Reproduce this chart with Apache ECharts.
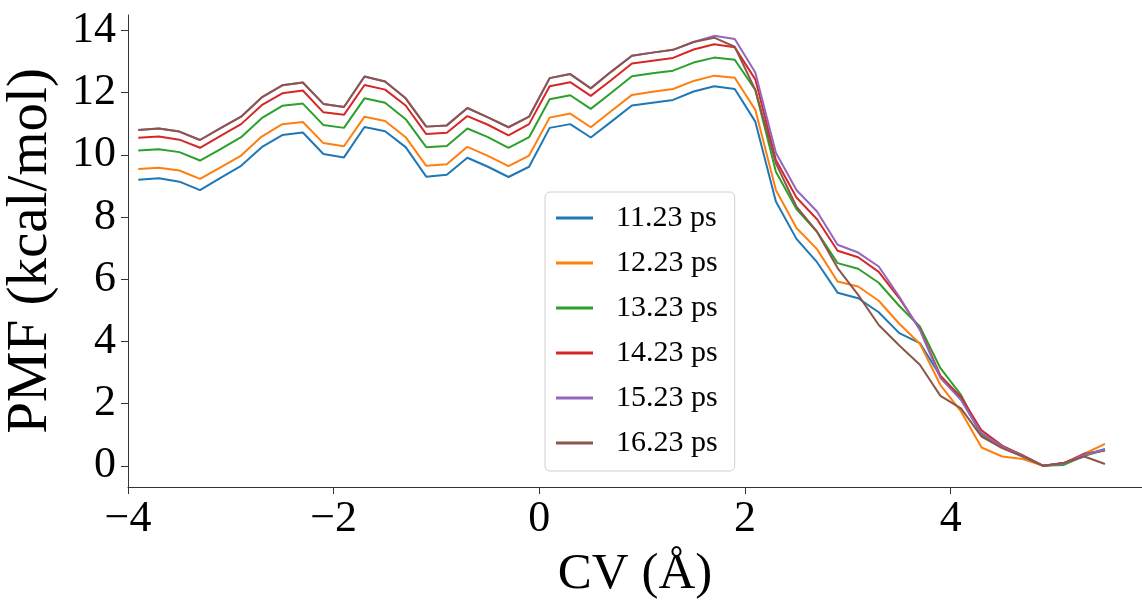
<!DOCTYPE html>
<html>
<head>
<meta charset="utf-8">
<script src="https://cdn.jsdelivr.net/npm/echarts@6/dist/echarts.min.js"></script>
<style>
html,body{margin:0;padding:0;background:#fff;}
#chart{width:1142px;height:606px;}
</style>
</head>
<body>
<div id="chart"></div>
<script>
const cv = [-3.9,-3.7,-3.5,-3.3,-3.1,-2.9,-2.7,-2.5,-2.3,-2.1,-1.9,-1.7,-1.5,-1.3,-1.1,-0.9,-0.7,-0.5,-0.3,-0.1,
  0.1,0.3,0.5,0.7,0.9,1.1,1.3,1.5,1.7,1.9,2.1,2.3,2.5,2.7,2.9,3.1,3.3,3.5,3.7,3.9,4.1,4.3,4.5,4.7,4.9,5.1,5.3,5.5];

const pmf_11_23 = [9.20,9.25,9.14,8.87,9.26,9.65,10.25,10.64,10.72,10.03,9.92,10.90,10.76,10.25,9.30,9.36,9.91,9.62,9.29,9.62,
  10.87,10.99,10.56,11.07,11.59,11.68,11.77,12.04,12.21,12.12,11.07,8.50,7.30,6.55,5.57,5.39,4.94,4.27,3.95,2.88,2.14,1.00,0.62,0.30,0.00,0.09,0.35,0.54];
const pmf_12_23 = [9.55,9.59,9.50,9.23,9.60,9.98,10.59,10.99,11.06,10.38,10.28,11.23,11.09,10.57,9.65,9.70,10.26,9.97,9.64,9.98,
  11.20,11.33,10.89,11.41,11.93,12.03,12.12,12.38,12.55,12.48,11.45,8.87,7.65,6.97,5.93,5.77,5.31,4.57,3.93,2.60,1.75,0.59,0.30,0.22,0.00,0.06,0.39,0.71];
const pmf_13_23 = [10.14,10.18,10.09,9.82,10.19,10.57,11.18,11.58,11.65,10.96,10.87,11.82,11.68,11.15,10.25,10.29,10.85,10.57,10.23,10.57,
  11.79,11.92,11.48,12.00,12.53,12.63,12.71,12.97,13.13,13.06,12.09,9.46,8.26,7.53,6.52,6.34,5.89,5.14,4.48,3.14,2.28,1.00,0.62,0.34,0.00,0.03,0.32,0.51];
const pmf_14_23 = [10.55,10.59,10.49,10.23,10.61,10.99,11.60,11.98,12.07,11.37,11.29,12.25,12.10,11.59,10.67,10.71,11.25,10.97,10.63,10.99,
  12.21,12.34,11.90,12.41,12.94,13.03,13.12,13.39,13.56,13.46,12.43,9.84,8.63,7.93,6.92,6.71,6.24,5.39,4.40,2.90,2.21,1.14,0.65,0.34,0.00,0.09,0.39,0.49];
const pmf_15_23 = [10.80,10.85,10.75,10.48,10.86,11.23,11.85,12.24,12.33,11.64,11.54,12.52,12.36,11.82,10.91,10.95,11.51,11.21,10.89,11.23,
  12.47,12.60,12.14,12.68,13.19,13.29,13.38,13.63,13.83,13.73,12.65,10.07,8.87,8.18,7.11,6.86,6.41,5.44,4.37,2.82,2.12,1.05,0.62,0.32,0.00,0.07,0.36,0.52];
const pmf_16_23 = [10.80,10.85,10.75,10.48,10.86,11.23,11.85,12.24,12.33,11.64,11.54,12.52,12.36,11.82,10.91,10.95,11.51,11.21,10.89,11.23,
  12.47,12.60,12.14,12.68,13.19,13.29,13.38,13.63,13.77,13.48,12.09,9.73,8.34,7.53,6.36,5.50,4.53,3.87,3.25,2.25,1.85,0.94,0.57,0.30,0.00,0.09,0.30,0.06];

const seriesNames = ['11.23 ps','12.23 ps','13.23 ps','14.23 ps','15.23 ps','16.23 ps'];
const seriesValues = [pmf_11_23,pmf_12_23,pmf_13_23,pmf_14_23,pmf_15_23,pmf_16_23];
const colors = ['#1f77b4','#ff7f0e','#2ca02c','#d62728','#9467bd','#8c564b'];
const xTicks = [-4,-2,0,2,4];
const yTicks = [0,2,4,6,8,10,12,14];

const FONT = '"Liberation Serif", "DejaVu Serif", serif';
const fmt = v => (v < 0 ? '\u2212' + Math.abs(v) : String(v));

const chart = echarts.init(document.getElementById('chart'), null, {renderer:'canvas'});
chart.setOption({
  animation:false,
  backgroundColor:'#fff',
  color: colors,
  grid:{left:128,right:0,top:15,bottom:119,containLabel:false,outerBoundsMode:'none'},
  xAxis:{
    type:'value', min:-4, max:5.86,
    name:'CV (\u00C5)', nameLocation:'middle', nameGap:62,
    nameTextStyle:{fontFamily:FONT,fontSize:51,color:'#000'},
    axisLine:{show:true,onZero:false,lineStyle:{color:'#333',width:1}},
    axisTick:{show:true,inside:false,length:7,customValues:xTicks,lineStyle:{color:'#333',width:1}},
    axisLabel:{customValues:xTicks,formatter:fmt,margin:10,fontFamily:FONT,fontSize:44,color:'#000'},
    splitLine:{show:false}
  },
  yAxis:{
    type:'value', min:-0.68, max:14.5,
    name:'PMF (kcal/mol)', nameLocation:'middle', nameGap:68, nameRotate:90,
    nameTextStyle:{fontFamily:FONT,fontSize:57,color:'#000'},
    axisLine:{show:true,onZero:false,lineStyle:{color:'#333',width:1}},
    axisTick:{show:true,inside:false,length:7,customValues:yTicks,lineStyle:{color:'#333',width:1}},
    axisLabel:{customValues:yTicks,formatter:fmt,margin:12,fontFamily:FONT,fontSize:44,color:'#000'},
    splitLine:{show:false}
  },
  legend:{
    show:true, orient:'vertical', left:545, top:192,
    data: seriesNames,
    icon:'rect', itemWidth:37, itemHeight:3, itemGap:15,
    padding:[11,17,13,11],
    backgroundColor:'rgba(255,255,255,0.8)',
    borderColor:'#d0d0d0', borderWidth:1, borderRadius:5,
    textStyle:{fontFamily:FONT,fontSize:30,color:'#000',lineHeight:30,padding:[0,0,0,18]}
  },
  series: seriesValues.map((vals,i)=>({
    name: seriesNames[i],
    type:'line',
    data: cv.map((x,j)=>[x, vals[j]]),
    showSymbol:false,
    symbol:'none',
    lineStyle:{width:2,color:colors[i]},
    itemStyle:{color:colors[i]},
    emphasis:{disabled:true}
  }))
});
</script>
</body>
</html>
